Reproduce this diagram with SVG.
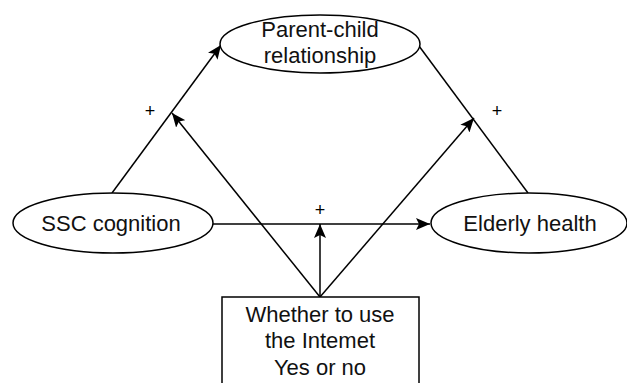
<svg xmlns="http://www.w3.org/2000/svg" width="627" height="383" viewBox="0 0 627 383">
<style>
.shape{fill:#fff;stroke:#000;stroke-width:1.5}
.lbl{font-family:"Liberation Sans",Arial,sans-serif;font-size:22px;fill:#111;text-anchor:middle}
.plus{font-family:"Liberation Sans",Arial,sans-serif;font-size:18px;fill:#000;text-anchor:middle}
.edge{fill:none;stroke:#000;stroke-width:1.5}
</style>
<defs>
<marker id="arr" viewBox="0 0 10 10" refX="10" refY="5" markerWidth="10" markerHeight="10" markerUnits="userSpaceOnUse" orient="auto">
<path d="M0,0 L10,5 L0,10 Z" fill="#000"/>
</marker>
<marker id="arrL" viewBox="0 0 14 12" refX="14" refY="6" markerWidth="14" markerHeight="12" markerUnits="userSpaceOnUse" orient="auto">
<path d="M0,0 L14,6 L0,12 L3,6 Z" fill="#000"/>
</marker>
</defs>
<rect width="627" height="383" fill="#fff"/>
<g id="connectors">
<line class="edge" x1="112" y1="193" x2="221" y2="45" marker-end="url(#arrL)"/>
<line class="edge" x1="419" y1="46" x2="528" y2="193"/>
<line class="edge" x1="213" y1="224" x2="430" y2="224" marker-end="url(#arrL)"/>
<line class="edge" x1="320" y1="297" x2="320" y2="224" marker-end="url(#arrL)"/>
<line class="edge" x1="320" y1="297" x2="172" y2="113" marker-end="url(#arrL)"/>
<line class="edge" x1="320" y1="297" x2="474" y2="118" marker-end="url(#arrL)"/>
<text class="plus" x="150" y="117">+</text>
<text class="plus" x="497" y="117">+</text>
<text class="plus" x="320" y="216">+</text>
</g>
<g id="parent-child">
<ellipse class="shape" cx="320" cy="44" rx="100" ry="29"/>
<text class="lbl" x="320" y="37">Parent-child</text>
<text class="lbl" x="320" y="63">relationship</text>
</g>
<g id="ssc">
<ellipse class="shape" cx="113" cy="223" rx="100" ry="30"/>
<text class="lbl" x="111" y="231">SSC cognition</text>
</g>
<g id="elderly">
<ellipse class="shape" cx="529" cy="223" rx="98" ry="30"/>
<text class="lbl" x="530" y="231">Elderly health</text>
</g>
<g id="internet">
<rect class="shape" x="222" y="297" width="197" height="95"/>
<text class="lbl" x="320" y="322">Whether to use</text>
<text class="lbl" x="320" y="348">the Intemet</text>
<text class="lbl" x="320" y="375">Yes or no</text>
</g>
</svg>
